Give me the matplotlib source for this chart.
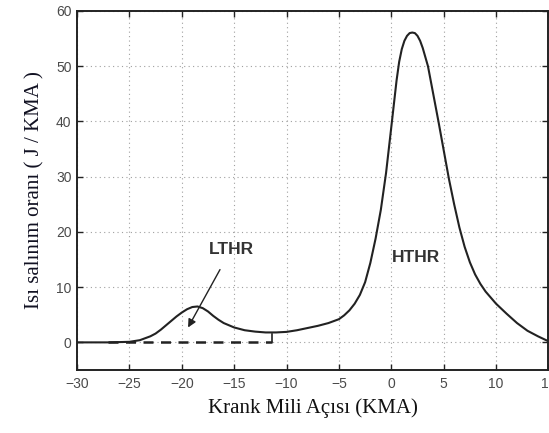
import matplotlib
matplotlib.use("Agg")
import matplotlib.pyplot as plt

# Heat release rate vs crank angle
crank_angle = [-30, -27, -25, -24, -23, -22.5, -22, -21.5, -21, -20.5, -20, -19.5, -19, -18.5,
               -18, -17.5, -17, -16.5, -16, -15, -14, -13, -12, -11, -10, -9, -8, -7, -6,
               -5, -4.5, -4, -3.5, -3, -2.5, -2, -1.5, -1, -0.5, 0, 0.5, 0.75, 1, 1.25, 1.5,
               1.75, 2, 2.25, 2.5, 2.75, 3, 3.5, 4, 4.5, 5, 5.5, 6, 6.5, 7, 7.5, 8, 8.5, 9,
               10, 11, 12, 13, 14, 15]
heat_release = [0, 0, 0.1, 0.4, 1.1, 1.6, 2.3, 3.1, 3.9, 4.7, 5.4, 6.0, 6.4, 6.5,
                6.2, 5.6, 4.8, 4.1, 3.5, 2.7, 2.2, 1.95, 1.8, 1.8, 1.9, 2.2, 2.6, 3.0, 3.5,
                4.2, 4.9, 5.8, 7.0, 8.6, 10.9, 14.4, 18.8, 24.0, 30.7, 39.0, 47.4, 50.8, 53.1, 54.6, 55.5,
                56.0, 56.1, 56.0, 55.5, 54.6, 53.3, 50.0, 45.0, 40.0, 34.8, 29.6, 25.0, 20.8, 17.3, 14.5, 12.3, 10.6, 9.2,
                7.0, 5.2, 3.5, 2.1, 1.1, 0.2]

# Reference (motored) baseline segment
base_x = [-27, -11.4]
base_y = [0, 0]
tick_x = [-11.4, -11.4]
tick_y = [0, 1.6]

xticks = [-30, -25, -20, -15, -10, -5, 0, 5, 10, 15]
yticks = [0, 10, 20, 30, 40, 50, 60]

fig = plt.figure(figsize=(5.49, 4.33), dpi=100)
ax = fig.add_axes([0.1403, 0.1455, 0.8587, 0.8291])

ax.plot(crank_angle, heat_release, color="#222222", lw=1.5,
        solid_joinstyle="round", solid_capstyle="round")
ax.plot(base_x, base_y, color="#222222", lw=1.8, linestyle=(0, (4, 3)))
ax.plot(tick_x, tick_y, color="#222222", lw=1.2)

ax.set_xlim(-30, 15)
ax.set_ylim(-5, 60)
ax.set_xticks(xticks)
ax.set_yticks(yticks)

ax.grid(True, color="#a0a0a0", linestyle=(0, (1, 3)), linewidth=0.8)
ax.tick_params(direction="in", length=4, width=1, top=True, right=True,
               labelsize=10, labelcolor="#4a4a4a", color="#222222")
ax.tick_params(axis="x", pad=5)
ax.tick_params(axis="y", pad=4)
for lab in ax.get_xticklabels() + ax.get_yticklabels():
    lab.set_family("Liberation Sans")
for sp in ax.spines.values():
    sp.set_linewidth(1.4)
    sp.set_color("#222222")

ax.set_xlabel("Krank Mili Açısı (KMA)", family="Liberation Serif", fontsize=15,
              color="#111111", labelpad=5)
ax.set_ylabel("Isı salınım oranı ( J / KMA )", family="Liberation Serif", fontsize=15,
              color="#111122", labelpad=8)

ax.annotate("LTHR", xy=(-19.4, 2.7), xytext=(-15.3, 16.8),
            ha="center", va="center", fontsize=12.5, color="#333333",
            family="Liberation Sans", fontweight="bold",
            arrowprops=dict(arrowstyle="-|>", color="#222222", lw=1.0,
                            mutation_scale=12, shrinkA=8, shrinkB=0))
ax.text(2.4, 15.4, "HTHR", ha="center", va="center", fontsize=12.5,
        color="#333333", family="Liberation Sans", fontweight="bold")

fig.savefig("out.png", dpi=100)
